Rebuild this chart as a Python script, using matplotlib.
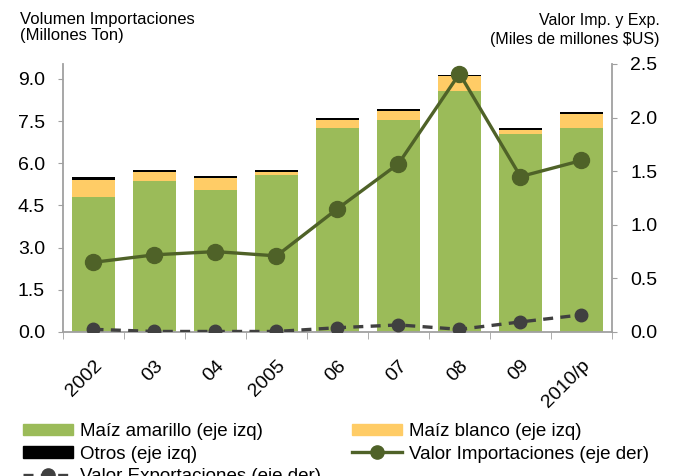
import matplotlib
matplotlib.use("Agg")
import matplotlib.pyplot as plt
from matplotlib.patches import Patch
from matplotlib.lines import Line2D
import numpy as np

plt.rcParams['font.family'] = ['Liberation Sans', 'DejaVu Sans']

years = ['2002', '03', '04', '2005', '06', '07', '08', '09', '2010/p']
amarillo = [4.80, 5.37, 5.05, 5.59, 7.26, 7.54, 8.58, 7.05, 7.26]
blanco = [0.61, 0.32, 0.43, 0.10, 0.28, 0.32, 0.51, 0.14, 0.50]
otros = [0.11, 0.08, 0.07, 0.07, 0.07, 0.07, 0.06, 0.06, 0.06]
val_imp = [0.65, 0.72, 0.75, 0.71, 1.15, 1.57, 2.41, 1.45, 1.60]
val_exp = [0.025, 0.005, 0.005, 0.005, 0.04, 0.066, 0.025, 0.094, 0.16]

c_amar = '#9BBB59'
c_blan = '#FFCC66'
c_otro = '#000000'
c_imp = '#4F6228'
c_exp = '#404040'
c_axis = '#A0A0A0'

W, H = 675, 476
fig = plt.figure(figsize=(W / 100, H / 100), dpi=100)
ax = fig.add_axes([63 / W, 1 - 332 / H, (612 - 63) / W, (332 - 64) / H])

x = np.arange(len(years))
bw = 0.69
b1 = np.array(amarillo)
b2 = b1 + np.array(blanco)
ax.bar(x, amarillo, bw, color=c_amar, zorder=2)
ax.bar(x, blanco, bw, bottom=b1, color=c_blan, zorder=2)
ax.bar(x, otros, bw, bottom=b2, color=c_otro, zorder=2)

ax.set_xlim(-0.5, len(years) - 0.5)
ax.set_ylim(0, 9.53)
ax.set_yticks(np.arange(0, 9.01, 1.5))
ax.set_yticklabels([f'{v:.1f}' for v in np.arange(0, 9.01, 1.5)])
ax.set_xticks(x)
ax.set_xticklabels(years, rotation=45, ha='right', va='top', rotation_mode='anchor')
ax.set_xticks(np.arange(-0.5, len(years)), minor=True)
ax.tick_params(axis='x', which='major', length=0, pad=18, labelsize=14)
ax.tick_params(axis='x', which='minor', length=5, color=c_axis, direction='out')
ax.tick_params(axis='y', length=3.5, color=c_axis, pad=9.5, labelsize=14)

for s in ['top', 'right']:
    ax.spines[s].set_visible(False)
for s in ['left', 'bottom']:
    ax.spines[s].set_color(c_axis)
    ax.spines[s].set_linewidth(1.3)

ax2 = ax.twinx()
ax2.plot(x, val_imp, color=c_imp, lw=2.4, marker='o', ms=11.5, zorder=4)
ax2.plot(x, val_exp, color=c_exp, lw=2.4, ls=(0, (3, 2.2)), marker='o', ms=9, zorder=4)
ax2.set_ylim(0, 2.5)
ax2.set_yticks(np.arange(0, 2.51, 0.5))
ax2.set_yticklabels([f'{v:.1f}' for v in np.arange(0, 2.51, 0.5)])
ax2.tick_params(axis='y', length=3.5, color=c_axis, pad=9.5, labelsize=14)
for s in ['top', 'left', 'bottom']:
    ax2.spines[s].set_visible(False)
ax2.spines['right'].set_color(c_axis)
ax2.spines['right'].set_linewidth(1.3)

fig.text(20 / W, 1 - 12 / H, 'Volumen Importaciones\n(Millones Ton)', fontsize=12,
         ha='left', va='top', linespacing=1.05)
fig.text(660 / W, 1 - 13 / H, 'Valor Imp. y Exp.\n(Miles de millones $US)', fontsize=11.5,
         ha='right', va='top', linespacing=1.3, multialignment='right')

handles = [
    Patch(color=c_amar),
    Patch(color=c_otro),
    Line2D([], [], color=c_exp, lw=2.4, ls=(0, (3, 2.2)), marker='o', ms=9.5),
    Patch(color=c_blan),
    Line2D([], [], color=c_imp, lw=2.4, marker='o', ms=9.5),
]
labels = ['Maíz amarillo (eje izq)', 'Otros (eje izq)', 'Valor Exportaciones (eje der)',
          'Maíz blanco (eje izq)', 'Valor Importaciones (eje der)']
fig.legend(handles, labels, loc='upper left', bbox_to_anchor=(14 / W, 1 - 414 / H),
           ncol=2, frameon=False, fontsize=13.5, handlelength=2.67, handleheight=0.55,
           handletextpad=0.37, labelspacing=0.28, columnspacing=1.65, borderpad=0)

fig.savefig('out.png', dpi=100)
